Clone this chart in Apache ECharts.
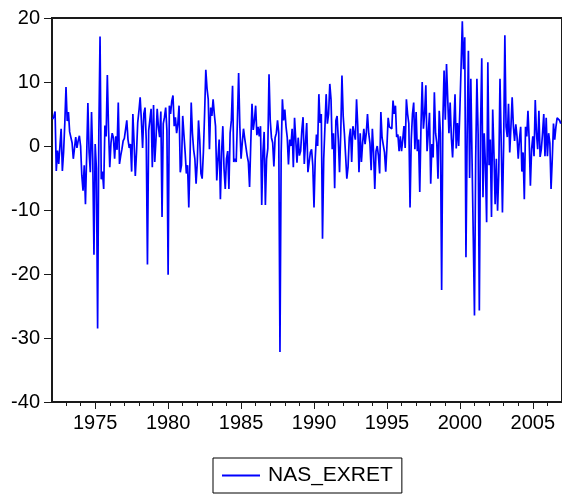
<!DOCTYPE html>
<html>
<head>
<meta charset="utf-8">
<script src="https://cdn.jsdelivr.net/npm/echarts@6/dist/echarts.min.js"></script>
<style>
  html, body { margin: 0; padding: 0; background: #ffffff; }
  #chart { width: 562px; height: 495px; }
</style>
</head>
<body>
<div id="chart"></div>
<script>
// Monthly excess returns (%), first observation 1972:02
const seriesName = 'NAS_EXRET';
const firstYear = 1972;
const firstMonth = 2;

// 1972:02 - 1979:12
const ret1970s = [
  4.2, 4.6, 5.4, -3.9, -0.7, -2.8, -2.5, 2.7, -3.9, -1.0, 3.5,
  9.2, 3.9, 5.3, 2.2, 2.0, 0.5, -2.0, -2.0, 1.4, -0.3, 0.8, 1.6,
  0.0, -4.6, -7.0, -3.0, -9.1, -1.5, 6.7, -1.0, -4.1, 5.3, -2.0, -17.0,
  0.3, -3.5, -28.5, 2.0, 17.1, -5.2, -4.0, -6.7, 3.2, 1.5, 11.1, 2.5,
  -3.3, 0.5, 2.0, 1.3, -2.0, 1.5, -0.6, 6.8, -2.8, -1.5, -0.5, 0.8,
  1.2, 1.4, 4.0, 1.0, -0.3, 0.3, -4.0, 5.0, 0.5, -4.7, -1.0, 3.7,
  5.5, 7.6, 4.0, -0.3, 5.0, 6.0, 1.0, -18.5, 2.4, 2.7, 5.8, -3.3,
  6.4, -2.5, 1.0, 5.8, 3.0, 1.4, 5.4, -11.1, 3.5, 4.5, 6.0, 2.5
];

// 1980:01 - 1989:12
const ret1980s = [
  -20.1, 6.3, 5.0, 7.0, 7.9, 3.1, 4.5, 2.0, 3.5, 6.3, -4.1, -3.0,
  4.7, 1.8, -1.0, -4.3, -3.0, -9.6, -2.0, 6.8, 2.0, -0.6, -2.0, -5.9,
  -2.5, 4.0, 1.0, -4.3, -5.1, -1.0, 5.0, 11.9, 9.0, 7.3, -0.5, 6.0,
  4.7, 7.3, 5.0, 3.1, -5.4, -2.0, 1.0, -8.3, -1.0, 3.1, -3.6, -6.7,
  -2.0, -0.8, -6.7, 2.0, 4.0, 9.4, -2.5, -2.0, -2.5, 4.0, 11.4, 3.0,
  -2.0, 0.5, 2.7, 1.2, 1.0, -1.5, -2.5, -6.4, 0.5, 6.6, 2.5, 4.0,
  6.3, 1.7, 3.0, 1.5, 3.1, -9.2, -1.0, 2.2, -9.2, -2.0, -0.4, 11.2,
  4.0, 1.3, 0.5, -3.2, 1.3, 2.0, 4.0, 2.0, -32.2, -1.0, 7.3, 4.0,
  5.7, 3.0, 1.3, -2.9, 1.0, 0.0, 2.7, -3.3, 4.4, 1.0, -2.6, 1.3,
  -1.5, -0.8, 2.5, 4.5, -2.8, 0.5, 3.6, -4.1, -4.3, -1.0, -0.5, -3.0
];

// 1990:01 - 1999:12
const ret1990s = [
  -9.6, -2.0, 1.8, 0.0, 8.1, 3.6, 5.0, -14.5, -2.0, 3.0, 8.1, 3.5,
  5.0, 9.7, 7.3, -0.5, 2.0, -6.6, 4.0, 4.7, 1.0, -4.1, 2.0, 11.0,
  4.7, 2.0, -1.5, -5.1, -3.3, 1.3, 2.7, -2.5, 3.1, 3.0, 1.0, 7.3,
  3.1, -4.1, 2.0, -2.5, 0.5, 2.7, 0.3, 2.0, 5.0, 2.0, 0.5, -3.8,
  2.7, -1.0, -6.7, -0.8, 0.0, -1.5, -4.3, 5.3, 1.3, 1.5, -1.0, -4.0,
  0.0, 4.4, 3.0, 2.7, 2.7, 7.1, 5.0, 6.3, 1.4, 1.8, -0.8, 1.5,
  -0.8, 1.0, 3.1, -0.3, 7.3, 5.0, 3.5, -9.6, 1.0, 5.0, 6.8, -0.5,
  5.3, -0.8, 1.0, -7.2, 3.1, 10.0, 2.7, 5.0, 9.5, -0.8, 2.0, 5.2,
  -5.9, 0.3, -1.8, 8.4, 2.0, 0.5, -5.1, 5.5, 2.0, -22.5, 4.0, 11.8,
  4.1, 12.8, 13.1, 2.0, 6.8, 1.3, -1.8, 3.0, 8.1, -0.4, 3.6, 0.0
];

// 2000:01 - 2006:12
const ret2000s = [
  5.7, 12.5, 19.5, 12.0, 17.0, -17.4, 2.0, 14.9, -5.0, 10.5, -2.0, -14.0,
  -26.5, -2.0, 10.5, 2.0, -25.7, 3.0, 13.7, -8.0, 2.0, -3.0, -11.9, 13.1,
  -3.0, 1.0, -11.1, 5.7, -1.0, -9.1, -2.0, -10.1, -4.0, 10.5, 0.5, -10.4,
  0.3, 17.3, 3.0, 1.4, 6.6, -1.0, 3.0, 7.6, 3.1, 0.8, 3.4, 1.5,
  -2.0, 1.0, 3.0, -4.0, -1.0, -8.3, 3.0, 1.5, 5.5, 1.0, -6.2, -0.5,
  1.5, -1.6, 7.2, 2.0, -0.5, 5.5, -1.7, -0.5, 2.0, 5.0, -1.6, 4.4,
  -1.6, 2.0, 0.5, -6.7, -2.0, 3.5, 1.0, 3.0, 4.4, 4.4, 4.0, 3.5
];

const majorYears = [1975, 1980, 1985, 1990, 1995, 2000, 2005];
const minorYears = [1973, 1974, 1976, 1977, 1978, 1979, 1981, 1982, 1983, 1984,
  1986, 1987, 1988, 1989, 1991, 1992, 1993, 1994, 1996, 1997, 1998, 1999,
  2001, 2002, 2003, 2004, 2006];

const values = ret1970s.concat(ret1980s, ret1990s, ret2000s);
// each month sits at year + (month - 1) / 12
const points = values.map((v, i) => [firstYear + (firstMonth - 1 + i) / 12, v]);

const FONT = '"Liberation Sans", Arial, Helvetica, sans-serif';
const xMin = 1972.04;
const xMax = 2007.0;
const pxPerYear = 14.7;

const chart = echarts.init(document.getElementById('chart'), null, { renderer: 'canvas' });
chart.setOption({
  animation: false,
  backgroundColor: '#ffffff',
  grid: {
    left: 52,
    top: 18,
    width: (xMax - xMin) * pxPerYear,
    height: 384,
    show: true,
    borderColor: '#1a1a1a',
    borderWidth: 2,
    backgroundColor: 'transparent'
  },
  legend: {
    left: 213,
    top: 458,
    padding: [7, 9, 7, 9],
    borderColor: '#000000',
    borderWidth: 1,
    icon: 'rect',
    itemWidth: 38,
    itemHeight: 2,
    textStyle: {
      fontFamily: FONT,
      fontSize: 21,
      color: '#000000',
      lineHeight: 20,
      padding: [0, 0, 0, 3]
    },
    data: [seriesName]
  },
  xAxis: [
    {
      type: 'value',
      min: xMin,
      max: xMax,
      position: 'bottom',
      splitLine: { show: false },
      axisLine: { show: true, onZero: false, lineStyle: { color: '#1a1a1a', width: 2 } },
      axisTick: { show: true, inside: false, length: 7, customValues: majorYears,
        lineStyle: { color: '#1a1a1a', width: 1 } },
      axisLabel: { show: true, customValues: majorYears, margin: 11,
        fontFamily: FONT, fontSize: 20, color: '#000000',
        formatter: v => String(Math.round(v)) }
    },
    {
      type: 'value',
      min: xMin,
      max: xMax,
      position: 'bottom',
      offset: 0,
      splitLine: { show: false },
      axisLine: { show: false, onZero: false },
      axisTick: { show: true, inside: false, length: 4, customValues: minorYears,
        lineStyle: { color: '#1a1a1a', width: 1 } },
      axisLabel: { show: false }
    }
  ],
  yAxis: {
    type: 'value',
    min: -40,
    max: 20,
    interval: 10,
    splitLine: { show: false },
    axisLine: { show: true, onZero: false, lineStyle: { color: '#1a1a1a', width: 2 } },
    axisTick: { show: true, inside: false, length: 8, lineStyle: { color: '#1a1a1a', width: 1 } },
    axisLabel: { margin: 12, fontFamily: FONT, fontSize: 20, color: '#000000' }
  },
  series: [
    {
      name: seriesName,
      type: 'line',
      xAxisIndex: 0,
      data: points,
      showSymbol: false,
      symbol: 'none',
      color: '#0000ff',
      lineStyle: { color: '#0000ff', width: 1.7 }
    }
  ]
});
</script>
</body>
</html>
